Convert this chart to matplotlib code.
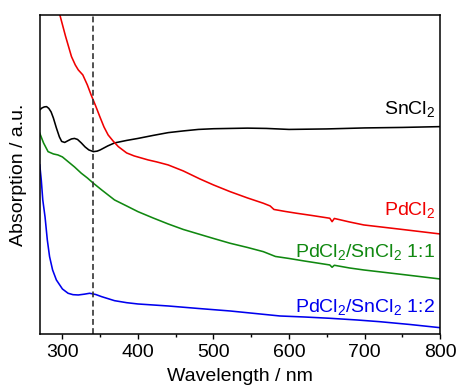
import matplotlib
matplotlib.use("Agg")
import matplotlib.pyplot as plt
from matplotlib.ticker import MultipleLocator

plt.rcParams['font.family'] = ['Liberation Sans', 'DejaVu Sans']
plt.rcParams['mathtext.fontset'] = 'custom'
plt.rcParams['mathtext.rm'] = 'Liberation Sans'
plt.rcParams['mathtext.it'] = 'Liberation Sans'

# wavelength (nm) / absorption (a.u.)
wl_sn = [270, 273, 276, 279, 282, 285, 288, 292, 296, 299, 303, 308, 312, 316,
         320, 325, 330, 335, 341, 346, 350, 360, 369, 385, 400, 420, 440, 460,
         480, 500, 522, 545, 570, 600, 650, 700, 750, 800]
abs_sn = [2.24, 2.26, 2.27, 2.273, 2.255, 2.22, 2.16, 2.06, 1.97, 1.925, 1.915,
          1.935, 1.95, 1.955, 1.945, 1.91, 1.87, 1.84, 1.823, 1.828, 1.84, 1.88,
          1.91, 1.935, 1.955, 1.985, 2.013, 2.03, 2.045, 2.052, 2.055, 2.058,
          2.055, 2.045, 2.05, 2.06, 2.065, 2.073]

wl_pd = [288, 296.6, 304, 312, 317, 321, 327, 333, 338, 344, 349.5, 355, 360.5,
         367, 374, 385, 395, 413.5, 425, 440, 460, 482, 500, 522, 545, 566, 575,
         580, 595, 610, 630, 654, 657, 660, 680, 699, 750, 800]
abs_pd = [3.40, 3.19, 2.98, 2.773, 2.69, 2.64, 2.59, 2.49, 2.39, 2.28, 2.173,
          2.07, 1.99, 1.93, 1.873, 1.81, 1.78, 1.74, 1.72, 1.69, 1.63, 1.55,
          1.49, 1.423, 1.36, 1.307, 1.28, 1.245, 1.225, 1.207, 1.185, 1.157,
          1.123, 1.155, 1.12, 1.09, 1.045, 1.00]

wl_11 = [270, 275, 281, 288, 294, 300, 307.5, 316, 325, 333, 341, 352, 369, 385,
         400, 420, 440, 460, 480, 500, 522, 545, 566, 582, 600, 620, 654, 657,
         660, 680, 699, 750, 800]
abs_11 = [2.007, 1.91, 1.823, 1.80, 1.79, 1.77, 1.723, 1.67, 1.607, 1.56, 1.507,
          1.44, 1.34, 1.28, 1.223, 1.16, 1.10, 1.045, 1.00, 0.955, 0.907, 0.865,
          0.823, 0.775, 0.755, 0.73, 0.69, 0.667, 0.687, 0.66, 0.64, 0.595, 0.55]

wl_12 = [270, 272, 274, 277, 280, 283, 287, 292, 300, 307.5, 314, 321, 329, 336,
         344, 352, 369, 385, 400, 440, 480, 522, 555, 588, 620, 654, 690, 720,
         760, 800]
abs_12 = [1.69, 1.54, 1.34, 1.17, 0.94, 0.773, 0.64, 0.54, 0.45, 0.407, 0.393,
          0.39, 0.398, 0.407, 0.395, 0.373, 0.333, 0.313, 0.30, 0.28, 0.255,
          0.23, 0.205, 0.18, 0.17, 0.157, 0.14, 0.123, 0.095, 0.063]

marker_wl = 340

fig = plt.figure(figsize=(4.57, 3.92), dpi=100)
ax = fig.add_axes([0.087, 0.148, 0.876, 0.814])

lw = 1.15
ax.plot(wl_sn, abs_sn, color='black', lw=lw)
ax.plot(wl_pd, abs_pd, color='#f00000', lw=lw)
ax.plot(wl_11, abs_11, color='#108810', lw=lw)
ax.plot(wl_12, abs_12, color='#0000ee', lw=lw)
ax.axvline(marker_wl, color='#333333', lw=1.2, ls=(0, (3.5, 2)))

fs = 14
ax.text(0.9875, 0.690, 'SnCl$_2$', transform=ax.transAxes, ha='right', va='baseline',
        fontsize=fs, color='black')
ax.text(0.9875, 0.373, 'PdCl$_2$', transform=ax.transAxes, ha='right', va='baseline',
        fontsize=fs, color='#f00000')
ax.text(0.9875, 0.241, 'PdCl$_2$/SnCl$_2$ 1:1', transform=ax.transAxes, ha='right',
        va='baseline', fontsize=fs, color='#108810')
ax.text(0.9875, 0.069, 'PdCl$_2$/SnCl$_2$ 1:2', transform=ax.transAxes, ha='right',
        va='baseline', fontsize=fs, color='#0000ee')

ax.set_xlim(270, 800)
ax.set_ylim(0, 3.19)
ax.xaxis.set_major_locator(MultipleLocator(100))
ax.xaxis.set_minor_locator(MultipleLocator(50))
ax.set_yticks([])
ax.tick_params(axis='x', which='major', direction='out', length=3.3, width=1.0,
               pad=4, labelsize=fs)
ax.tick_params(axis='x', which='minor', direction='out', length=1.8, width=1.0)
for s in ax.spines.values():
    s.set_linewidth(1.1)

ax.set_xlabel('Wavelength / nm', fontsize=fs, labelpad=5)
ax.set_ylabel('Absorption / a.u.', fontsize=fs, labelpad=9)

fig.savefig('out.png', dpi=100)
